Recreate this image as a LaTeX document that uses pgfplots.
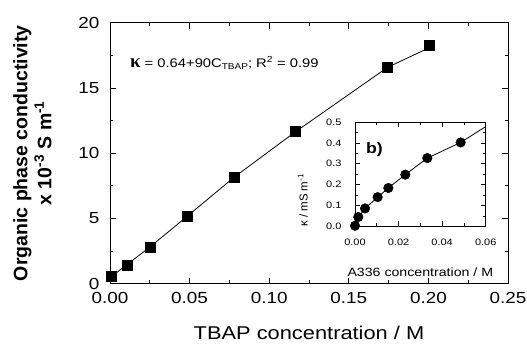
\documentclass[border=0pt]{standalone}
\usepackage{pgfplots}
\pgfplotsset{compat=1.18}
\usepackage{fontspec}
\setmainfont{Liberation Sans}[FakeStretch=1.18]
\newfontfamily\rotfont{Liberation Sans}
\newfontfamily\kapfont{Liberation Serif}
\begin{document}
\begin{tikzpicture}
\begin{axis}[name=main, scale only axis, width=398pt, height=261pt,
  xmin=0, xmax=0.25, ymin=0, ymax=20, clip=false,
  xtick={0,0.05,0.1,0.15,0.2,0.25}, ytick={0,5,10,15,20},
  minor x tick num=1, minor y tick num=1,
  scaled x ticks=false, scaled y ticks=false,
  tick align=inside, major tick length=6pt, minor tick length=3.5pt,
  axis line style={line width=0.9pt},
  every tick/.style={line width=0.8pt, black},
  /pgf/number format/assume math mode=true,
  x tick label style={/pgf/number format/fixed, /pgf/number format/fixed zerofill, /pgf/number format/precision=2, font=\fontsize{16}{18}\selectfont, yshift=-5pt},
  y tick label style={font=\fontsize{16}{18}\selectfont, xshift=-7pt},
  xlabel={TBAP concentration / M},
  xlabel style={font=\fontsize{18.5}{20}\selectfont, at={(axis description cs:0.5,-0.19)}, anchor=center},
  ylabel={Organic phase conductivity\\x 10\textsuperscript{-3} S m\textsuperscript{-1}},
  ylabel style={font=\rotfont\bfseries\fontsize{19.5}{24}\selectfont, align=center, at={(axis description cs:-0.195,0.5)}, anchor=center},
]
\addplot[black, line width=0.8pt] coordinates {
(0.001,0.55) (0.0105,1.45) (0.025,2.80) (0.0488,5.20) (0.078,8.16) (0.1166,11.65) (0.1744,16.58) (0.2,18.05)};
\addplot[only marks, mark=square*, mark size=5pt, black] coordinates {
(0.001,0.60) (0.0105,1.45) (0.025,2.80) (0.0488,5.20) (0.078,8.16) (0.1166,11.65) (0.1744,16.58) (0.2004,18.24)};
\node[anchor=base west, inner sep=0, font=\fontsize{12.5}{14}\selectfont] at (axis cs:0.0125,16.58)
 {{\kapfont\bfseries\fontsize{19}{20}\selectfont κ} = 0.64+90C\raisebox{-0.3ex}{\fontsize{8.5}{9}\selectfont TBAP}; R\textsuperscript{2} = 0.99};
\end{axis}
\begin{axis}[name=inset, at={(245pt,57.3pt)}, anchor=south west,
  scale only axis, width=130.7pt, height=104.4pt,
  xmin=0, xmax=0.06, ymin=0, ymax=0.5, clip=false,
  axis background/.style={fill=white},
  xtick={0,0.02,0.04,0.06}, ytick={0,0.1,0.2,0.3,0.4,0.5},
  minor x tick num=1, minor y tick num=1,
  scaled x ticks=false, scaled y ticks=false,
  tick align=inside, major tick length=5pt, minor tick length=3pt,
  axis line style={line width=0.8pt},
  every tick/.style={line width=0.7pt, black},
  /pgf/number format/assume math mode=true,
  x tick label style={/pgf/number format/fixed, /pgf/number format/fixed zerofill, /pgf/number format/precision=2, font=\fontsize{9.3}{11}\selectfont, yshift=-9pt},
  y tick label style={/pgf/number format/fixed, /pgf/number format/fixed zerofill, /pgf/number format/precision=1, font=\fontsize{9.3}{11}\selectfont, xshift=-10pt},
  xlabel={A336 concentration / M},
  xlabel style={font=\fontsize{12}{14}\selectfont, at={(axis description cs:0.5,-0.44)}, anchor=center},
  ylabel={κ / mS m\textsuperscript{-1}},
  ylabel style={font=\rotfont\fontsize{11.5}{13}\selectfont, at={(axis description cs:-0.40,0.25)}, anchor=center},
]
\addplot[black, line width=0.8pt] coordinates {
(0,0) (0.0015,0.045) (0.0046,0.086) (0.0104,0.14) (0.0153,0.184) (0.0231,0.248) (0.0332,0.327) (0.0485,0.402) (0.06,0.478)};
\addplot[only marks, mark=*, mark size=4.8pt, black] coordinates {
(0,0.003) (0.0015,0.045) (0.0046,0.086) (0.0104,0.14) (0.0153,0.184) (0.0231,0.248) (0.0332,0.327) (0.0485,0.402)};
\node[anchor=base west, inner sep=0, font=\bfseries\fontsize{15}{16}\selectfont] at (axis cs:0.005,0.35) {b)};
\end{axis}
\pgfresetboundingbox
\path ([shift={(-110pt,-66pt)}]main.south west) rectangle ([shift={(19pt,22.7pt)}]main.north east);
\end{tikzpicture}
\end{document}
